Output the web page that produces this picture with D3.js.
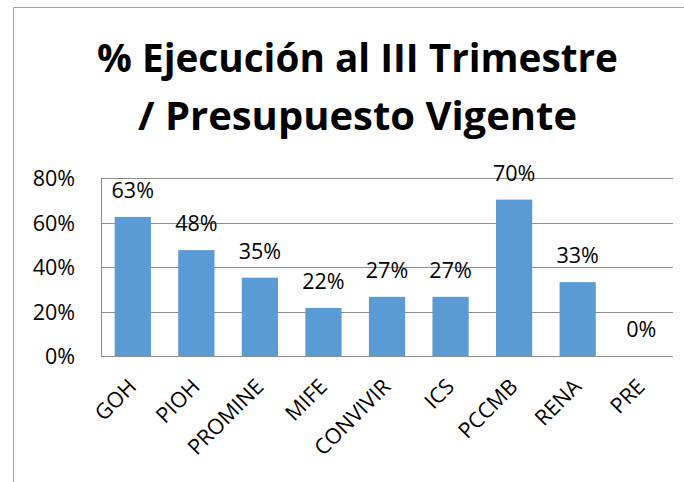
<!DOCTYPE html>
<html>
<head>
<meta charset="utf-8">
<script src="https://cdn.jsdelivr.net/npm/d3@7"></script>
<style>
  body { margin: 0; background: #fff; }
  text { font-family: "Open Sans", sans-serif; fill: #000; }
</style>
</head>
<body>
<script>
let categories = ["GOH", "PIOH", "PROMINE", "MIFE", "CONVIVIR", "ICS", "PCCMB", "RENA", "PRE"];
let values = [0.625, 0.476, 0.352, 0.216, 0.266, 0.266, 0.703, 0.332, 0];
let yTicks = [0, 0.2, 0.4, 0.6, 0.8];
let titleLines = ["% Ejecución al III Trimestre", "/ Presupuesto Vigente"];

let W = 684, H = 482;
let margin = { top: 178, right: 11, bottom: 126, left: 101 },
  width = W - margin.left - margin.right,
  height = H - margin.top - margin.bottom;

let root = d3.select("body").append("svg")
  .attr("width", W)
  .attr("height", H);

// chart frame (only left and top edges visible)
root.append("path")
  .attr("d", "M13.5," + H + "V7.5H" + W)
  .attr("fill", "none")
  .attr("stroke", "#a0a0a0")
  .attr("stroke-width", 1);

// title
let titleY = [72, 130], titleLen = [521, 439];
titleLines.forEach((t, i) => {
  root.append("text")
    .attr("x", 357.5)
    .attr("y", titleY[i])
    .attr("text-anchor", "middle")
    .attr("font-size", 40)
    .attr("font-weight", "bold")
    .attr("textLength", titleLen[i])
    .attr("lengthAdjust", "spacingAndGlyphs")
    .text(t);
});

let svg = root.append("g")
  .attr("transform", "translate(" + margin.left + "," + margin.top + ")");

let x = d3.scaleBand()
  .domain(categories)
  .range([0, width])
  .paddingInner(0.43)
  .paddingOuter(0.215);

let y = d3.scaleLinear()
  .domain([0, 0.8])
  .range([height, 0]);

// gridlines + y labels
let yAxis = svg.append("g")
  .call(d3.axisLeft(y)
    .tickValues(yTicks)
    .tickSize(-width)
    .tickPadding(26)
    .tickFormat(d3.format(".0%")));
yAxis.select(".domain").remove();
yAxis.selectAll("line")
  .attr("stroke", "#8c8c8c")
  .attr("shape-rendering", "crispEdges");
yAxis.selectAll("text")
  .attr("font-size", 21.5)
  .attr("font-family", "Open Sans, sans-serif")
  .attr("dy", "0.36em");

// left axis line
svg.append("line")
  .attr("x1", 0).attr("x2", 0)
  .attr("y1", 0).attr("y2", height)
  .attr("stroke", "#8c8c8c")
  .attr("shape-rendering", "crispEdges");

// bars
svg.selectAll(".bar")
  .data(values)
  .enter().append("rect")
  .attr("class", "bar")
  .attr("x", (d, i) => x(categories[i]))
  .attr("width", x.bandwidth())
  .attr("y", d => y(d))
  .attr("height", d => height - y(d))
  .attr("fill", "#5b9bd5");

// data labels
svg.selectAll(".lbl")
  .data(values)
  .enter().append("text")
  .attr("class", "lbl")
  .attr("x", (d, i) => x(categories[i]) + x.bandwidth() / 2)
  .attr("y", d => y(d) - 19)
  .attr("text-anchor", "middle")
  .attr("font-size", 21.5)
  .text(d => d3.format(".0%")(d));

// x labels, rotated
svg.selectAll(".xl")
  .data(categories)
  .enter().append("text")
  .attr("class", "xl")
  .attr("text-anchor", "end")
  .attr("font-size", 21.5)
  .attr("transform", d => "translate(" + (x(d) + x.bandwidth() / 2 + 5) + "," + (height + 32) + ") rotate(-45)")
  .text(d => d);
</script>
</body>
</html>
